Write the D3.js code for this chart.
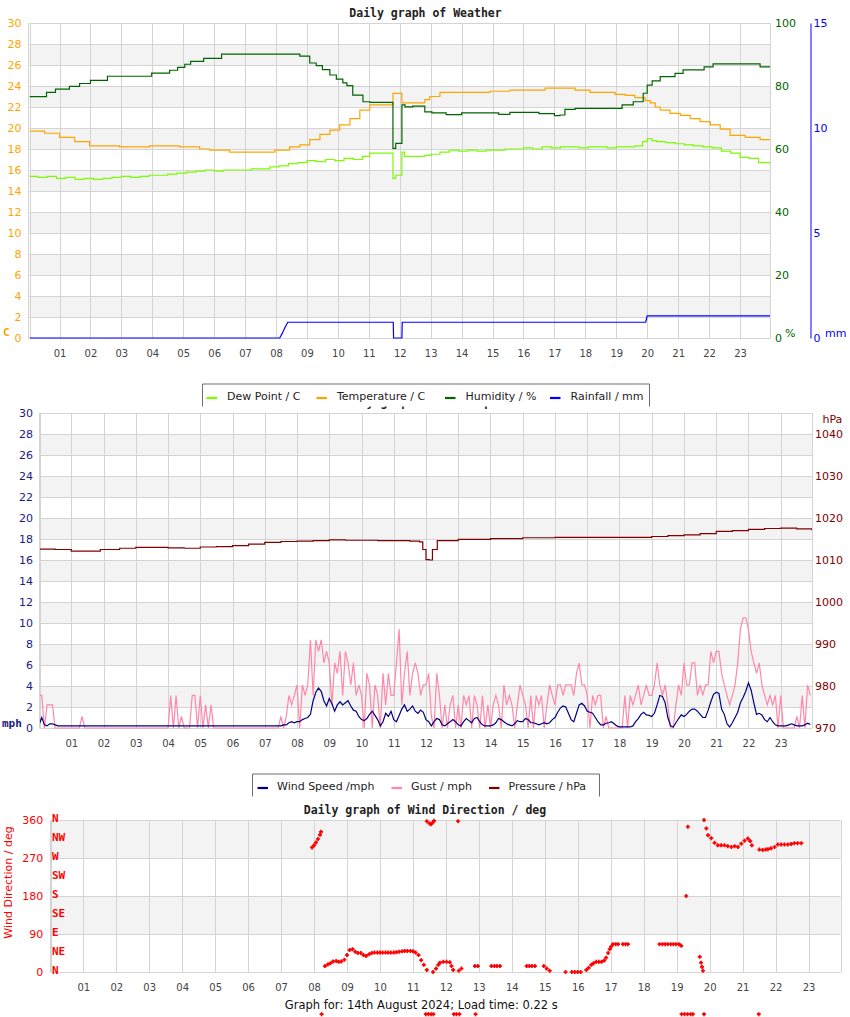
<!DOCTYPE html>
<html><head><meta charset="utf-8">
<script src="https://cdn.jsdelivr.net/npm/d3@7"></script>
<style>
body{margin:0;background:#fff}
svg{display:block}
text{font-family:"DejaVu Sans",sans-serif}
</style></head>
<body>
<script>
// ---------------- DATA ----------------
const hourTicks = [1,2,3,4,5,6,7,8,9,10,11,12,13,14,15,16,17,18,19,20,21,22,23];
const tempTicks = [0,2,4,6,8,10,12,14,16,18,20,22,24,26,28,30];
const humTicks = [0,20,40,60,80,100];
const rainTicks = [0,5,10,15];
const speedTicks = [0,2,4,6,8,10,12,14,16,18,20,22,24,26,28,30];
const pressTicks = [970,980,990,1000,1010,1020,1030,1040];
const dirTicks = [0,90,180,270,360];
const compassNames = ["N","NE","E","SE","S","SW","W","NW","N"];
const compassDeg = [0,45,90,135,180,225,270,315,360];

// [hour, value]
const temperature = [[0.03,19.7],[0.52,19.5],[1.0,19.1],[1.49,18.7],[1.97,18.3],[2.94,18.2],[3.91,18.3],[4.88,18.2],[5.53,18.0],[5.86,17.9],[6.5,17.7],[7.47,17.7],[7.96,17.9],[8.44,18.2],[8.77,18.4],[9.09,18.9],[9.42,19.4],[9.74,19.8],[10.06,20.3],[10.39,20.9],[10.71,21.7],[11.03,22.2],[11.78,23.3],[12.07,22.4],[12.59,22.4],[12.81,22.7],[12.97,23.0],[13.3,23.4],[14.92,23.5],[15.56,23.6],[16.7,23.8],[17.18,23.8],[17.67,23.6],[18.15,23.4],[18.96,23.2],[19.29,23.1],[19.6,22.9],[19.93,22.6],[20.1,22.4],[20.26,22.0],[20.42,21.7],[20.74,21.4],[21.07,21.2],[21.39,20.9],[21.71,20.6],[22.04,20.3],[22.36,19.9],[22.68,19.3],[23.17,19.1],[23.65,18.9],[23.98,18.8]];
const dewPoint = [[0.03,15.4],[0.3,15.3],[0.6,15.4],[0.9,15.2],[1.2,15.3],[1.5,15.1],[1.8,15.2],[2.1,15.1],[2.4,15.2],[2.7,15.3],[3.0,15.4],[3.3,15.3],[3.6,15.4],[3.9,15.5],[4.2,15.5],[4.5,15.6],[4.8,15.7],[5.1,15.8],[5.4,15.9],[5.7,16.0],[6.0,15.9],[6.3,16.0],[6.6,16.0],[6.9,16.0],[7.2,16.1],[7.5,16.1],[7.8,16.3],[8.1,16.4],[8.4,16.6],[8.7,16.7],[9.0,16.9],[9.3,16.8],[9.6,17.0],[9.9,16.9],[10.2,17.1],[10.5,17.0],[10.8,17.3],[11.03,17.6],[11.78,15.2],[11.87,15.5],[12.07,17.7],[12.15,17.3],[12.5,17.3],[12.8,17.4],[13.0,17.5],[13.3,17.7],[13.6,17.9],[13.9,17.8],[14.2,17.9],[14.5,17.8],[14.8,17.9],[15.1,17.9],[15.4,18.0],[15.7,18.0],[16.0,18.1],[16.3,18.0],[16.6,18.2],[16.9,18.1],[17.2,18.2],[17.5,18.2],[17.8,18.1],[18.1,18.2],[18.4,18.2],[18.7,18.1],[19.0,18.2],[19.3,18.2],[19.6,18.3],[19.85,18.7],[20.0,19.0],[20.15,18.8],[20.3,18.7],[20.6,18.6],[20.9,18.5],[21.2,18.4],[21.5,18.3],[21.8,18.2],[22.1,18.1],[22.4,17.8],[22.7,17.6],[23.0,17.2],[23.3,17.1],[23.6,16.7],[23.98,16.4]];
const humidity = [[0.03,76.6],[0.58,78.0],[0.87,79.0],[1.32,79.9],[1.65,80.8],[2.0,81.8],[2.55,83.1],[3.98,84.1],[4.56,85.0],[4.82,85.9],[5.05,86.9],[5.24,87.8],[5.66,88.8],[6.24,90.1],[8.77,89.5],[9.09,87.3],[9.3,86.5],[9.5,85.2],[9.74,83.5],[9.95,82.2],[10.16,81.0],[10.29,80.1],[10.48,77.1],[10.81,75.0],[11.03,74.8],[11.78,60.2],[11.87,61.8],[12.07,74.0],[12.17,73.4],[12.42,73.6],[12.81,71.8],[13.04,71.5],[13.5,70.9],[14.0,71.5],[14.85,71.5],[15.2,71.0],[15.56,71.6],[16.5,71.2],[17.0,70.6],[17.18,70.8],[17.34,72.6],[17.67,72.9],[19.19,74.0],[19.55,75.0],[19.87,77.7],[20.0,80.3],[20.16,81.6],[20.42,83.0],[20.9,84.0],[21.16,85.1],[21.84,86.1],[22.13,87.0],[23.65,86.1],[23.98,86.1]];
const rainfall = [[0.03,0],[8.12,0],[8.2,0.22],[8.3,0.54],[8.38,0.75],[11.79,0.75],[11.8,0],[12.07,0],[12.08,0.75],[19.95,0.75],[20.0,1.05],[23.98,1.05]];
const pressure = [[0.03,1012.6],[0.5,1012.5],[1.0,1012.1],[1.9,1012.5],[2.5,1012.8],[3.0,1013.0],[3.5,1013.0],[4.0,1012.9],[4.5,1012.8],[5.0,1013.1],[5.5,1013.2],[6.0,1013.4],[6.5,1013.8],[7.0,1014.2],[7.5,1014.4],[8.0,1014.5],[8.5,1014.6],[9.0,1014.8],[9.5,1014.7],[10.0,1014.7],[10.5,1014.6],[11.0,1014.6],[11.5,1014.5],[11.8,1014.3],[11.9,1012.5],[12.0,1010.1],[12.1,1010.0],[12.2,1012.5],[12.35,1014.6],[13.0,1014.9],[14.0,1015.1],[15.0,1015.3],[16.0,1015.4],[17.0,1015.4],[18.0,1015.4],[19.0,1015.6],[19.5,1015.8],[20.0,1016.0],[20.5,1016.3],[21.0,1016.8],[21.5,1017.0],[22.0,1017.3],[22.5,1017.5],[23.0,1017.6],[23.5,1017.4],[23.97,1017.0]];

// 5-minute samples, one row per hour (mph)
const windSpeedRows = [
[0.3,1.0,0.3,0.2,0.4,0.4,0.3,0.2,0.2,0.2,0.2,0.2],
[0.2,0.2,0.2,0.2,0.2,0.2,0.2,0.2,0.2,0.2,0.2,0.2],
[0.2,0.2,0.2,0.2,0.2,0.2,0.2,0.2,0.2,0.2,0.2,0.2],
[0.2,0.2,0.2,0.2,0.2,0.2,0.2,0.2,0.2,0.2,0.2,0.2],
[0.2,0.2,0.2,0.2,0.2,0.2,0.2,0.2,0.2,0.2,0.2,0.2],
[0.2,0.2,0.2,0.2,0.2,0.2,0.2,0.2,0.2,0.2,0.2,0.2],
[0.2,0.2,0.2,0.2,0.2,0.2,0.2,0.2,0.2,0.2,0.2,0.2],
[0.2,0.2,0.2,0.2,0.2,0.2,0.2,0.3,0.3,0.5,0.6,0.5],
[0.6,0.6,0.8,0.9,1.0,1.3,2.6,3.4,3.8,3.5,2.6,2.1],
[2.8,2.3,1.6,2.2,2.5,2.2,2.4,2.6,2.1,1.7,1.6,1.1],
[0.8,0.7,0.9,1.3,1.6,1.2,0.8,0.2,0.6,1.4,1.1,1.6],
[0.8,0.6,1.2,1.8,2.2,1.6,1.8,2.1,1.6,1.4,1.7,1.5],
[0.8,0.6,0.2,0.6,0.9,0.8,0.3,0.2,0.4,0.6,0.8,0.6],
[0.3,0.2,0.6,0.9,0.7,0.5,0.9,1.0,0.6,0.3,0.2,0.2],
[0.2,0.3,0.5,0.9,0.8,0.6,0.4,0.3,0.2,0.4,0.7,0.6],
[0.6,0.9,0.8,0.5,0.5,0.4,0.3,0.4,0.5,0.4,0.5,0.8],
[1.0,1.5,1.9,2.1,2.0,1.4,0.8,0.6,1.4,2.2,2.35,2.1],
[1.6,1.5,1.4,1.0,0.6,0.3,0.3,0.45,0.5,0.6,0.4,0.2],
[0.1,0.1,0.1,0.1,0.1,0.2,0.6,0.9,1.3,1.5,1.25,1.2],
[1.1,1.4,2.2,3.1,3.0,2.4,1.0,0.2,0.1,0.5,0.9,1.25],
[1.1,1.3,1.6,1.8,1.8,1.6,1.3,1.0,1.0,1.7,2.5,3.2],
[3.4,3.3,1.8,1.3,0.4,0.1,0.5,1.0,1.5,2.4,2.9,3.5],
[4.3,3.6,2.4,1.3,1.4,1.25,0.8,0.6,1.0,0.6,0.3,0.2],
[0.2,0.2,0.2,0.3,0.4,0.3,0.2,0.2,0.2,0.3,0.45,0.35]
];
const gustRows = [
[3.1,3.1,0,2.2,2.2,2.2,0,0,0,0,0,0],
[0,0,0,0,1.1,0,0,0,0,0,0,0],
[0,0,0,0,0,0,0,0,0,0,0,0],
[0,0,0,0,0,0,0,0,0,0,0,0],
[0,3.1,0,3.1,0,1.1,0,0,0,3.1,3.1,0],
[3.1,0,2.2,0,2.2,0,0,0,0,0,0,0],
[0,0,0,0,0,0,0,0,0,0,0,0],
[0,0,0,0,0,0,1.1,0,1.1,3.1,2.2,3.1],
[4.1,0,4.1,3.1,4.1,8.4,3.1,8.4,7.3,8.4,6.2,7.3],
[6.2,2.2,6.2,5.2,7.3,3.1,7.3,6.2,4.1,6.2,3.1,4.1],
[3.1,0,5.2,4.1,0,4.1,3.1,0,5.2,2.2,5.2,3.1],
[3.1,6.2,9.4,2.2,5.2,7.3,3.1,5.2,6.2,5.2,3.1,4.1],
[4.1,5.2,1.1,0,5.2,3.1,0,2.2,0,2.2,3.1,0],
[2.2,0,3.1,2.2,3.1,0,3.1,2.2,0,3.1,0,2.2],
[0,2.2,3.1,2.2,0,4.1,2.2,3.1,2.2,0,2.2,4.1],
[3.1,2.2,0,3.1,0,3.1,2.2,3.1,0,2.2,4.1,3.1],
[2.2,4.1,4.1,3.1,4.1,4.1,4.1,3.1,5.2,6.2,4.1,4.1],
[3.1,0,3.1,2.2,3.1,3.1,0,1.1,0,0,0,0],
[0,0,3.1,0,3.1,2.2,3.1,4.1,2.2,3.1,4.1,3.1],
[3.1,4.1,6.2,4.1,3.1,4.1,2.2,0,0,2.2,4.1,3.1],
[6.2,4.1,4.1,6.2,6.2,3.1,4.1,3.1,4.1,4.1,7.3,6.2],
[7.3,7.3,5.2,4.1,3.1,2.2,3.1,4.1,6.2,9.4,10.5,10.5],
[9.4,7.3,6.2,5.2,6.2,4.1,3.1,2.2,3.1,2.2,3.1,0],
[3.1,0,0,0,0,0,1.1,0,3.1,0,4.1,3.1]
];

// [hour, degrees]  (-100 = calm reading, plotted below the axis)
const windDir = [
[7.94,295],[8.00,300],[8.06,307],[8.12,315],[8.18,325],[8.21,332],[8.23,-100],
[8.33,14],[8.42,18],[8.50,21],[8.58,25],[8.67,26],[8.75,24],[8.83,25],[8.92,29],[9.00,40],[9.08,52],[9.17,54],[9.25,48],[9.33,45],[9.42,45],[9.50,40],[9.58,38],[9.67,42],[9.75,45],[9.83,46],[9.92,46],[10.00,46],[10.08,46],[10.17,46],[10.25,46],[10.33,46],[10.42,46],[10.50,47],[10.58,48],[10.67,49],[10.75,50],[10.83,50],[10.92,50],[11.00,49],[11.08,46],[11.17,40],[11.25,28],[11.33,17],[11.42,5],
[11.39,-100],[11.47,-100],[11.55,-100],[11.62,-100],
[11.42,357],[11.50,352],[11.55,350],[11.59,353],[11.64,358],
[11.61,0],[11.70,8],[11.77,17],[11.82,22],[11.92,24],[12.02,24],[12.12,23],[12.17,14],[12.22,5],
[12.24,-100],[12.32,-100],[12.41,-100],[12.37,357],[12.39,3],[12.47,8],
[12.88,14],[12.90,-100],[12.97,14],
[13.38,14],[13.47,14],[13.55,14],[13.64,14],
[14.45,14],[14.53,14],[14.61,14],[14.70,14],
[14.97,14],[15.06,8],[15.15,3],
[15.63,0],[15.82,0],[15.91,0],[16.00,0],[16.09,0],
[16.26,5],[16.33,10],[16.41,17],[16.48,21],[16.56,24],[16.64,24],[16.72,24],[16.80,27],[16.86,34],[16.92,45],[16.97,54],[17.01,60],[17.07,66],[17.15,66],[17.22,66],
[17.37,66],[17.45,66],[17.52,66],
[18.48,66],[18.57,66],[18.65,66],[18.73,66],[18.82,66],[18.90,66],[18.98,66],[19.07,66],[19.14,62],
[19.15,-100],[19.24,-100],[19.33,-100],[19.42,-100],[19.49,-100],
[19.29,180],[19.34,344],
[19.70,36],[19.74,22],[19.77,12],[19.80,3],
[19.83,-100],[19.83,360],[19.90,340],[19.95,324],[20.05,317],[20.15,306],[20.25,300],[20.35,300],[20.45,300],[20.55,298],[20.66,296],[20.76,298],[20.86,296],[20.96,304],[21.06,311],[21.16,316],[21.23,310],[21.28,300],
[21.49,-100],
[21.51,290],[21.61,289],[21.70,290],[21.77,291],[21.86,293],[21.97,296],[22.07,302],[22.17,302],[22.27,302],[22.37,302],[22.47,303],[22.57,305],[22.67,305],[22.78,305]
];

const weatherLegend = ["Dew Point / C","Temperature / C","Humidity / %","Rainfall / mm"];
const windLegend = ["Wind Speed /mph","Gust / mph","Pressure / hPa"];
const footerText = "Graph for: 14th August 2024; Load time: 0.22 s";

// ---------------- DRAWING ----------------
const C = {temp:"#ffa500", dew:"#7cfc00", hum:"#006400", rain:"#0000ff",
           wind:"#000080", gust:"#ff88aa", press:"#800000", dir:"#ff0000"};
const xDomain = [0.03, 23.97];
const svg = d3.select("body").append("svg").attr("width",850).attr("height",1017);
const defs = svg.append("defs");

function frame(id, c, y, gridTicks, bandTicks, bandStep) {
  const g = svg.append("g");
  const x = d3.scaleLinear().domain(xDomain).range([c.L, c.R]);
  defs.append("clipPath").attr("id", id).append("rect")
    .attr("x", c.L).attr("y", c.T - 1).attr("width", c.R - c.L).attr("height", c.B - c.T + 2);
  g.selectAll(null).data(bandTicks).join("rect")
    .attr("x", c.L).attr("width", c.R - c.L)
    .attr("y", d => Math.round(y(d + bandStep))).attr("height", d => Math.round(y(d)) - Math.round(y(d + bandStep)))
    .attr("fill", "#f3f3f3");
  g.selectAll(null).data(gridTicks).join("line")
    .attr("x1", c.L).attr("x2", c.R)
    .attr("y1", d => Math.round(y(d)) + 0.5).attr("y2", d => Math.round(y(d)) + 0.5)
    .attr("stroke", "#d4d4d4");
  g.selectAll(null).data(hourTicks).join("line")
    .attr("x1", d => Math.round(x(d)) + 0.5).attr("x2", d => Math.round(x(d)) + 0.5)
    .attr("y1", c.T).attr("y2", c.B)
    .attr("stroke", "#d4d4d4");
  [c.L - 1.5, c.L, c.R].forEach(px => g.append("line")
    .attr("x1", Math.round(px) + 0.5).attr("x2", Math.round(px) + 0.5)
    .attr("y1", c.T).attr("y2", c.B + 0.5).attr("stroke", "#d4d4d4"));
  const ax = g.append("g").attr("transform", `translate(0,${c.B})`)
    .call(d3.axisBottom(x).tickValues(hourTicks).tickFormat(d3.format("02d")).tickSize(0).tickPadding(11.5));
  ax.select(".domain").remove();
  ax.selectAll("text").attr("fill", "#444").style("font-family", "DejaVu Sans").style("font-size", "10px");
  return x;
}

function yAxis(scale, ticks, side, xpos, pad, color, keepDomain) {
  const gen = (side === "left" ? d3.axisLeft(scale) : d3.axisRight(scale))
    .tickValues(ticks).tickFormat(d3.format("d")).tickSize(0).tickSizeOuter(0).tickPadding(pad);
  const a = svg.append("g").attr("transform", `translate(${xpos},0)`).call(gen);
  if (keepDomain) a.select(".domain").attr("stroke", color);
  else a.select(".domain").remove();
  a.selectAll("text").attr("fill", color).style("font-family", "DejaVu Sans").style("font-size", "11px");
  return a;
}

function label(txt, x, y, color, opts = {}) {
  return svg.append("text").attr("x", x).attr("y", y).attr("dy", "0.35em")
    .attr("fill", color).attr("text-anchor", opts.anchor || "start")
    .style("font-family", opts.mono ? "DejaVu Sans Mono" : "DejaVu Sans")
    .style("font-weight", opts.bold ? "bold" : "normal")
    .style("font-size", (opts.size || 11) + "px").text(txt);
}

function drawLine(g, data, x, y, color, curve, clipId) {
  g.append("path").datum(data)
    .attr("clip-path", `url(#${clipId})`)
    .attr("fill", "none").attr("stroke", color).attr("stroke-width", 1.2)
    .attr("d", d3.line().x(d => x(d[0])).y(d => y(d[1])).curve(curve));
}

// legend box: left/right edges and swatch starts are layout positions
function legend(labels, colors, left, right, top, swatchX, textGap) {
  const g = svg.append("g");
  g.append("rect").attr("fill", "#fff").attr("x", left).attr("y", top).attr("width", right - left).attr("height", 23);
  labels.forEach((t, i) => {
    g.append("line").attr("x1", swatchX[i]).attr("x2", swatchX[i] + 10.5)
      .attr("y1", top + 14.5).attr("y2", top + 14.5)
      .attr("stroke", colors[i]).attr("stroke-width", 2.2);
    g.append("text").attr("x", swatchX[i] + textGap).attr("y", top + 16.8)
      .attr("fill", "#222").style("font-size", "11px").text(t);
  });
  g.append("path").attr("fill", "none").attr("stroke", "#6e6e6e")
    .attr("d", `M${left + 0.5},${top + 23}V${top + 0.5}H${right + 0.5}V${top + 23}`);
}

// ===== Chart 1: Weather =====
const c1 = {L:29.5, R:770, T:23, B:338};
const yT = d3.scaleLinear().domain([0,30]).range([c1.B, c1.T]);
const yH = d3.scaleLinear().domain([0,100]).range([c1.B, c1.T]);
const yR = d3.scaleLinear().domain([0,15]).range([c1.B, c1.T]);
const x1 = frame("clip1", c1, yT, tempTicks, tempTicks.filter(t => t % 4 === 2 && t < 30), 2);
const g1 = svg.append("g");
drawLine(g1, dewPoint, x1, yT, C.dew, d3.curveStepAfter, "clip1");
drawLine(g1, temperature, x1, yT, C.temp, d3.curveStepAfter, "clip1");
drawLine(g1, humidity, x1, yH, C.hum, d3.curveStepAfter, "clip1");
drawLine(g1, rainfall, x1, yR, C.rain, d3.curveLinear, "clip1");
yAxis(yT, tempTicks, "left", c1.L, 8, C.temp, false);
yAxis(yH, humTicks, "right", c1.R, 5, C.hum, false);
yAxis(yR, rainTicks, "right", 810.5, 3, C.rain, true);
label("Daily graph of Weather", 425.5, 13, "#222", {anchor:"middle", mono:true, bold:true, size:11.5});
label("C", 3, 332.5, C.temp, {mono:true, bold:true});
label("%", 785, 333, C.hum);
label("mm", 825, 333.5, C.rain);

// ===== Chart 2: Wind speed / pressure =====
const c2 = {L:40, R:812, T:413, B:728};
const yS = d3.scaleLinear().domain([0,30]).range([c2.B, c2.T]);
const yP = d3.scaleLinear().domain([970,1045]).range([c2.B, c2.T]);
const x2 = frame("clip2", c2, yS, speedTicks, speedTicks.filter(t => t % 4 === 2 && t < 30), 2);
const g2 = svg.append("g");
const gust = gustRows.flat().map((v, i) => [i / 12, v]);
const wind = windSpeedRows.flat().map((v, i) => [i / 12, v]);
drawLine(g2, gust, x2, yS, C.gust, d3.curveLinear, "clip2");
drawLine(g2, wind, x2, yS, C.wind, d3.curveLinear, "clip2");
drawLine(g2, pressure, x2, yP, C.press, d3.curveStepAfter, "clip2");
yAxis(yS, speedTicks, "left", c2.L, 7, "#1a1a80", false);
yAxis(yP, pressTicks, "right", c2.R, 3, C.press, false);
label("hPa", 822.5, 419.5, C.press);
label("mph", 2, 723, "#1a1a80", {mono:true, bold:true});
// second title lies mostly under the first legend (only descenders show)
label("Daily graph of Wind Speed", 425.5, 401.5, "#222", {anchor:"middle", mono:true, bold:true, size:11.5});

// legend 1 (drawn over the second title)
legend(weatherLegend, [C.dew, C.temp, C.hum, C.rain], 202, 649, 383.5, [206.5, 316.5, 445, 550], 20.5);

// ===== Chart 3: Wind direction =====
const c3 = {L:51.3, R:840.5, T:820, B:972};
const yD = d3.scaleLinear().domain([0,360]).range([c3.B, c3.T]);
const x3 = frame("clip3", c3, yD, dirTicks, dirTicks.filter(t => t % 180 === 90), 90);
yAxis(yD, dirTicks, "left", c3.L, 8, C.dir, false);
svg.append("g").selectAll("text").data(compassDeg).join("text")
  .attr("x", 52).attr("y", d => yD(d) - 2).attr("dy", "0.35em")
  .attr("fill", C.dir).style("font-family", "DejaVu Sans Mono").style("font-weight", "bold").style("font-size", "11px")
  .text((d, i) => compassNames[i]);
svg.append("text").attr("transform", "translate(11.5,882.5) rotate(-90)")
  .attr("text-anchor", "middle").attr("fill", C.dir).style("font-size", "11px")
  .text("Wind Direction / deg");
svg.append("g").selectAll("path").data(windDir).join("path")
  .attr("transform", d => `translate(${x3(d[0])},${yD(d[1])})`)
  .attr("d", "M-2,0H2M0,-2V2")
  .attr("stroke", C.dir).attr("stroke-width", 1.7).attr("fill", "none");
label("Daily graph of Wind Direction / deg", 425, 810, "#222", {anchor:"middle", mono:true, bold:true, size:11.5});

// legend 2
legend(windLegend, [C.wind, C.gust, C.press], 252, 599, 773.5, [257.5, 391.5, 489], 19.5);

// footer
label(footerText, 421.3, 1004.5, "#111", {anchor:"middle", size:11.5});
</script>
</body></html>
